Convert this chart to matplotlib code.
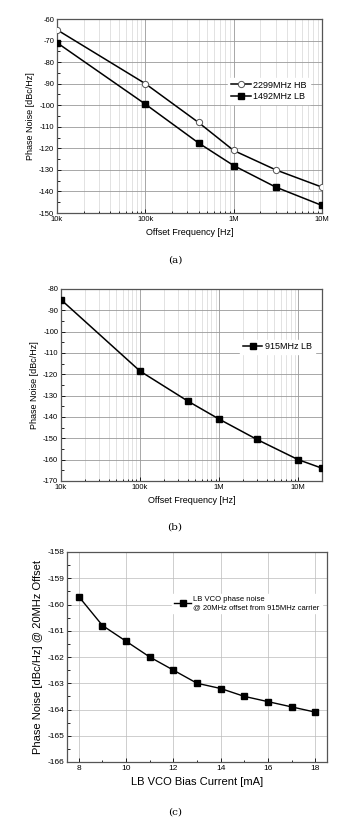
import matplotlib.pyplot as plt
import numpy as np
from matplotlib.ticker import MultipleLocator, NullFormatter

# panel (a)
freq_a = [1e4, 1e5, 4e5, 1e6, 3e6, 1e7]
hb_2299 = [-65, -90, -108, -121, -130, -138]
lb_1492 = [-71, -99.5, -117.5, -128, -138, -146.5]

# panel (b)
freq_b = [1e4, 1e5, 4e5, 1e6, 3e6, 1e7, 2e7]
lb_915 = [-85, -118.5, -132.5, -141, -150.5, -160, -164]

# panel (c)
bias_ma = [8, 9, 10, 11, 12, 13, 14, 15, 16, 17, 18]
pn_20m = [-159.7, -160.8, -161.4, -162.0, -162.5, -163.0, -163.2, -163.5, -163.7, -163.9, -164.1]

plt.rcParams['font.family'] = ['Liberation Sans', 'DejaVu Sans']
plt.rcParams['axes.unicode_minus'] = False

W, H = 355, 834
fig = plt.figure(figsize=(W / 100, H / 100), dpi=100)

def box(l, t, r, b):
    return [l / W, 1 - b / H, (r - l) / W, (b - t) / H]

def style(ax, fs=5.5):
    for s in ax.spines.values():
        s.set_linewidth(0.9)
        s.set_color('#555555')
    ax.tick_params(which='both', direction='in', labelsize=fs, pad=2, width=0.6)
    ax.tick_params(which='major', length=3)
    ax.tick_params(which='minor', length=1.8)

def log_axis(ax, xmax, labels):
    ax.set_xscale('log')
    ax.set_xlim(1e4, xmax)
    ax.set_xticks([1e4, 1e5, 1e6, 1e7])
    ax.set_xticklabels(labels)
    ax.xaxis.set_minor_formatter(NullFormatter())
    ax.grid(True, which='major', color='#999999', lw=0.6)
    ax.grid(True, which='minor', axis='x', color='#cccccc', lw=0.4)

# (a)
ax1 = fig.add_axes(box(57, 19, 322, 213))
ax1.plot(freq_a, hb_2299, '-o', color='black', lw=1.1, ms=4.5, mfc='white', mec='#555555', mew=0.7,
         label='2299MHz HB', zorder=3)
ax1.plot(freq_a, lb_1492, '-s', color='black', lw=1.1, ms=4, label='1492MHz LB', zorder=3)
log_axis(ax1, 1e7, ['10k', '100k', '1M', '10M'])
ax1.set_ylim(-150, -60)
ax1.yaxis.set_major_locator(MultipleLocator(10))
ax1.yaxis.set_minor_locator(MultipleLocator(5))
ax1.set_xlabel('Offset Frequency [Hz]', fontsize=6.5, labelpad=4)
ax1.set_ylabel('Phase Noise [dBc/Hz]', fontsize=6.5, labelpad=3)
ax1.legend(loc='upper right', bbox_to_anchor=(0.97, 0.72), fontsize=6.5, frameon=True, fancybox=False,
           edgecolor='white', framealpha=1, handlelength=2.2, handletextpad=0.3, borderpad=0.3,
           labelspacing=0.3)
style(ax1)
fig.text(175 / W, 1 - 260 / H, '(a)', ha='center', va='center', fontsize=7.5, family='DejaVu Serif')

# (b)
ax2 = fig.add_axes(box(61, 289, 322, 481))
ax2.plot(freq_b, lb_915, '-s', color='black', lw=1.1, ms=4, label='915MHz LB', zorder=3)
log_axis(ax2, 2e7, ['10k', '100k', '1M', '10M'])
ax2.set_ylim(-170, -80)
ax2.yaxis.set_major_locator(MultipleLocator(10))
ax2.yaxis.set_minor_locator(MultipleLocator(5))
ax2.set_xlabel('Offset Frequency [Hz]', fontsize=6.5, labelpad=4)
ax2.set_ylabel('Phase Noise [dBc/Hz]', fontsize=6.5, labelpad=3)
ax2.legend(loc='upper right', bbox_to_anchor=(0.99, 0.76), fontsize=6.5, frameon=True, fancybox=False,
           edgecolor='white', framealpha=1, handlelength=2.2, handletextpad=0.3, borderpad=0.3)
style(ax2)
fig.text(175 / W, 1 - 527 / H, '(b)', ha='center', va='center', fontsize=7.5, family='DejaVu Serif')

# (c)
ax3 = fig.add_axes(box(67, 552, 327, 762))
ax3.plot(bias_ma, pn_20m, '-s', color='black', lw=1.0, ms=4,
         label='LB VCO phase noise\n@ 20MHz offset from 915MHz carrier', zorder=3)
ax3.set_xlim(7.5, 18.5)
ax3.set_ylim(-166, -158)
ax3.xaxis.set_major_locator(MultipleLocator(2))
ax3.xaxis.set_minor_locator(MultipleLocator(1))
ax3.yaxis.set_major_locator(MultipleLocator(1))
ax3.yaxis.set_minor_locator(MultipleLocator(0.5))
ax3.grid(True, which='major', color='#bbbbbb', lw=0.5)
ax3.set_xlabel('LB VCO Bias Current [mA]', fontsize=8, labelpad=4)
ax3.set_ylabel('Phase Noise [dBc/Hz] @ 20MHz Offset', fontsize=8, labelpad=3)
ax3.legend(loc='upper right', bbox_to_anchor=(0.995, 0.82), fontsize=5.5, frameon=True, fancybox=False,
           edgecolor='white', framealpha=1, handlelength=2.2, handletextpad=0.3, borderpad=0.3)
style(ax3, fs=6)
fig.text(175 / W, 1 - 812 / H, '(c)', ha='center', va='center', fontsize=7.5, family='DejaVu Serif')

fig.savefig('out.png', dpi=100, facecolor='white')
